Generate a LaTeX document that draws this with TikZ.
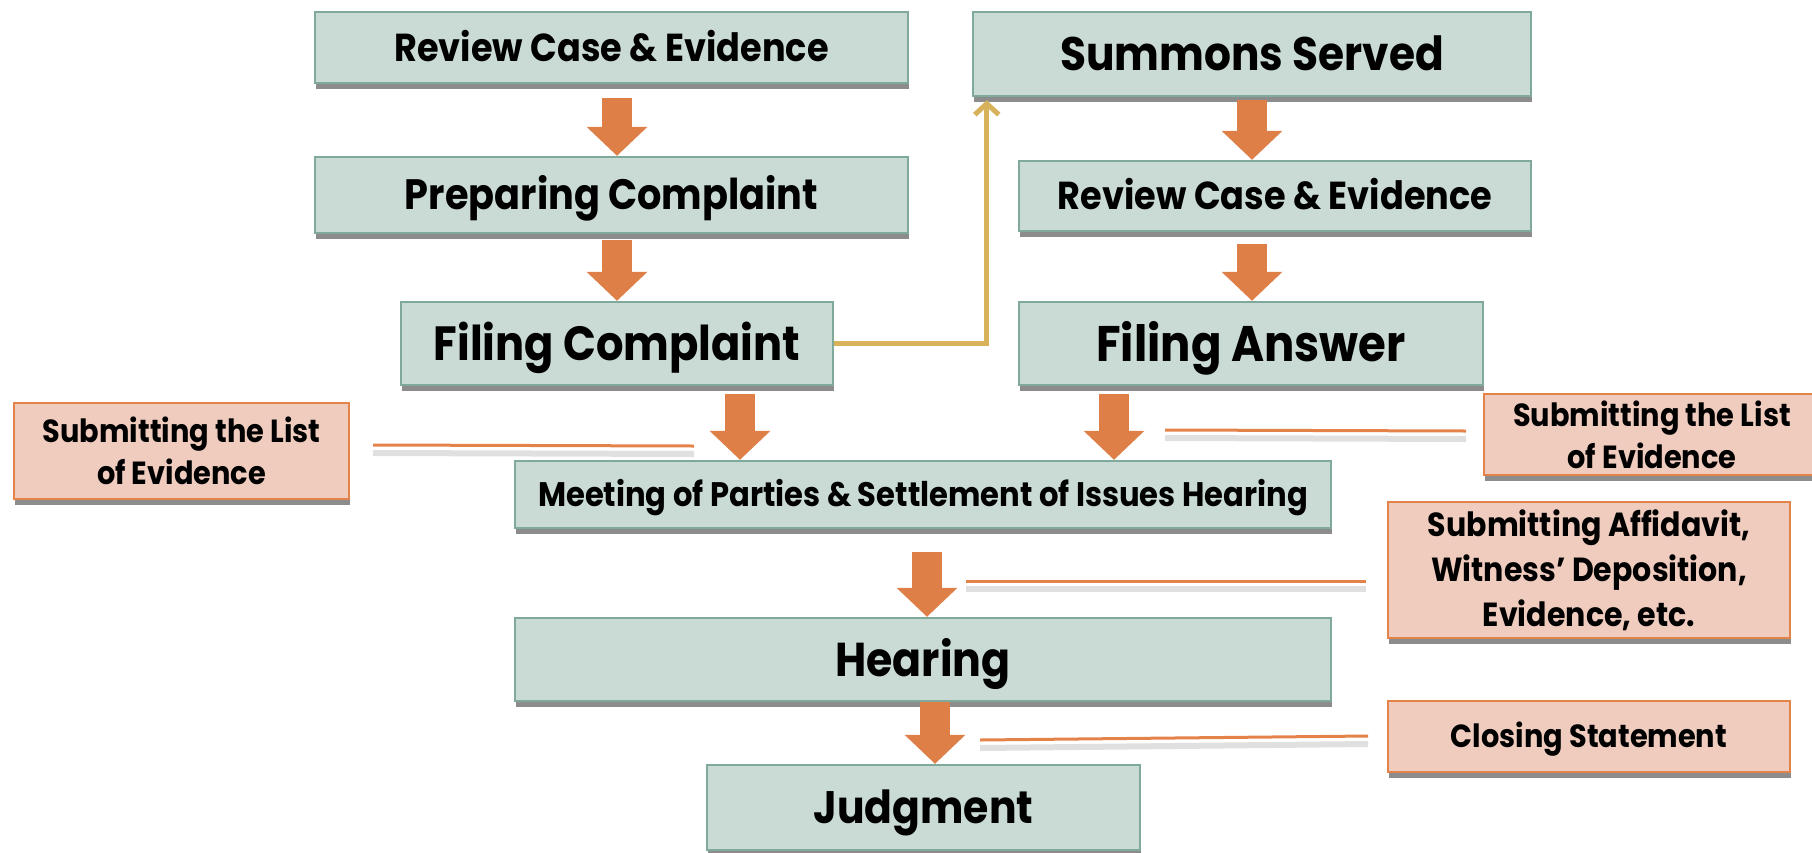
\documentclass[tikz,border=0pt]{standalone}
\usepackage{fontspec}
\setmainfont{Poppins}[FakeStretch=0.9]
\usetikzlibrary{arrows.meta,shadows}
\definecolor{boxfill}{HTML}{CADBD5}
\definecolor{boxdraw}{HTML}{7FA99B}
\definecolor{pinkfill}{HTML}{F0CCBF}
\definecolor{pinkdraw}{HTML}{E3834A}
\definecolor{arr}{HTML}{DE7F47}
\definecolor{goldline}{HTML}{D8B25A}
\newcommand\szRev{\fontsize{39}{47}\selectfont}
\newcommand\szPrep{\fontsize{42.5}{50}\selectfont}
\newcommand\szSumm{\fontsize{47}{56}\selectfont}
\newcommand\szFilc{\fontsize{48}{56}\selectfont}
\newcommand\szFila{\fontsize{50}{58}\selectfont}
\newcommand\szHear{\fontsize{47.5}{56}\selectfont}
\newcommand\szJudg{\fontsize{45.5}{56}\selectfont}
\newcommand\szMeet{\fontsize{34}{40}\selectfont}
\newcommand\szNote{\fontsize{32}{42}\selectfont}
\newcommand\szAff{\fontsize{33.4}{45}\selectfont}
\begin{document}
\begin{tikzpicture}[x=1pt,y=-1pt,
  stage/.style={draw=boxdraw, fill=boxfill, line width=2.5pt, inner sep=0pt, align=center,
    drop shadow={shadow xshift=1pt, shadow yshift=-6pt, opacity=0.45, fill=black}},
  cap/.style={text height=#1, text depth=0pt},
  note/.style={draw=pinkdraw, fill=pinkfill, line width=2.5pt, inner sep=0pt, align=center,
    drop shadow={shadow xshift=1pt, shadow yshift=-6pt, opacity=0.45, fill=black}},
  barrow/.style={draw=arr, line width=30pt, -{Triangle[width=61pt,length=29pt,line width=0pt]}},
  callout/.style={draw=pinkdraw, line width=3pt},
  calloutshadow/.style={draw=black, opacity=0.12, line width=6pt},
  goldarrow/.style={draw=goldline, line width=5pt, -{Straight Barb[length=11pt,width=24pt,line width=5pt]}}
]
\useasboundingbox (0,0) rectangle (1812,852);
% left column
\node[stage, cap=27.3pt, font=\bfseries\szRev, minimum width=593pt, minimum height=71pt] (rc1) at (611.5,47.5) {Review Case \& Evidence};
\node[stage, cap=29.7pt, font=\bfseries\szPrep, minimum width=593pt, minimum height=76pt] (prep) at (611.5,195) {Preparing Complaint};
\node[stage, cap=33.6pt, font=\bfseries\szFilc, minimum width=432pt, minimum height=83pt] (filc) at (617,343.5) {Filing Complaint};
% right column
\node[stage, cap=32.9pt, font=\bfseries\szSumm, minimum width=558pt, minimum height=84pt] (summ) at (1252,54) {Summons Served};
\node[stage, cap=27.3pt, font=\bfseries\szRev, minimum width=512pt, minimum height=70pt] (rc2) at (1275,196) {Review Case \& Evidence};
\node[stage, cap=35pt, font=\bfseries\szFila, minimum width=464pt, minimum height=83pt] (fila) at (1251,343.5) {Filing Answer};
% lower
\node[stage, cap=23.8pt, font=\bfseries\szMeet, minimum width=816pt, minimum height=67pt] (meet) at (923,494.5) {Meeting of Parties \& Settlement of Issues Hearing};
\node[stage, cap=33.2pt, font=\bfseries\szHear, minimum width=816pt, minimum height=83pt] (hear) at (923,659.5) {Hearing};
\node[stage, cap=31.8pt, font=\bfseries\szJudg, minimum width=433pt, minimum height=85pt] (judg) at (923.5,807.5) {Judgment};
% notes
\node[note, font=\bfseries\szNote, minimum width=335pt, minimum height=96pt] (lsub) at (181.5,451) {Submitting the List\\ of Evidence};
\node[note, font=\bfseries\szNote, minimum width=336pt, minimum height=81pt] (rsub) at (1652,434.5) {Submitting the List\\ of Evidence};
\node[note, font=\bfseries\szAff, minimum width=402pt, minimum height=136pt] (aff) at (1589,570) {Submitting Affidavit,\\ Witness’ Deposition,\\ Evidence, etc.};
\node[note, cap=22.4pt, font=\bfseries\szNote, minimum width=402pt, minimum height=71pt] (clos) at (1589,736.5) {Closing Statement};
% block arrows
\coordinate (a1) at (617,98);
\coordinate (a2) at (617,240);
\coordinate (a3) at (1252,100);
\coordinate (a4) at (1252,244);
\coordinate (a5) at (740,394);
\coordinate (a6) at (1114,394);
\coordinate (a7) at (927,552);
\coordinate (a8) at (935,702);
\draw[barrow] (a1) -- (a1 |- prep.north);
\draw[barrow] (a2) -- (a2 |- filc.north);
\draw[barrow] (a3) -- (a3 |- rc2.north);
\draw[barrow] (a4) -- (a4 |- fila.north);
\draw[barrow] (a5) -- (a5 |- meet.north);
\draw[barrow] (a6) -- (a6 |- meet.north);
\draw[barrow] (a7) -- (a7 |- hear.north);
\draw[barrow] (a8) -- (a8 |- judg.north);
% gold connector
\draw[goldarrow] (filc.east) -| ([xshift=15pt,yshift=-3pt]summ.south west);
% callout lines
\coordinate (l1a) at (373,445); \coordinate (l1b) at (694,446);
\coordinate (l2a) at (1165,430); \coordinate (l2b) at (1466,431);
\coordinate (l3a) at (966,581); \coordinate (l3b) at (1366,581);
\coordinate (l4a) at (980,740); \coordinate (l4b) at (1368,736);
\foreach \p/\q in {l1a/l1b,l2a/l2b,l3a/l3b,l4a/l4b}{
  \draw[calloutshadow] ([yshift=-8pt]\p) -- ([yshift=-8pt]\q);
  \draw[callout] (\p) -- (\q);
}
\end{tikzpicture}
\end{document}
